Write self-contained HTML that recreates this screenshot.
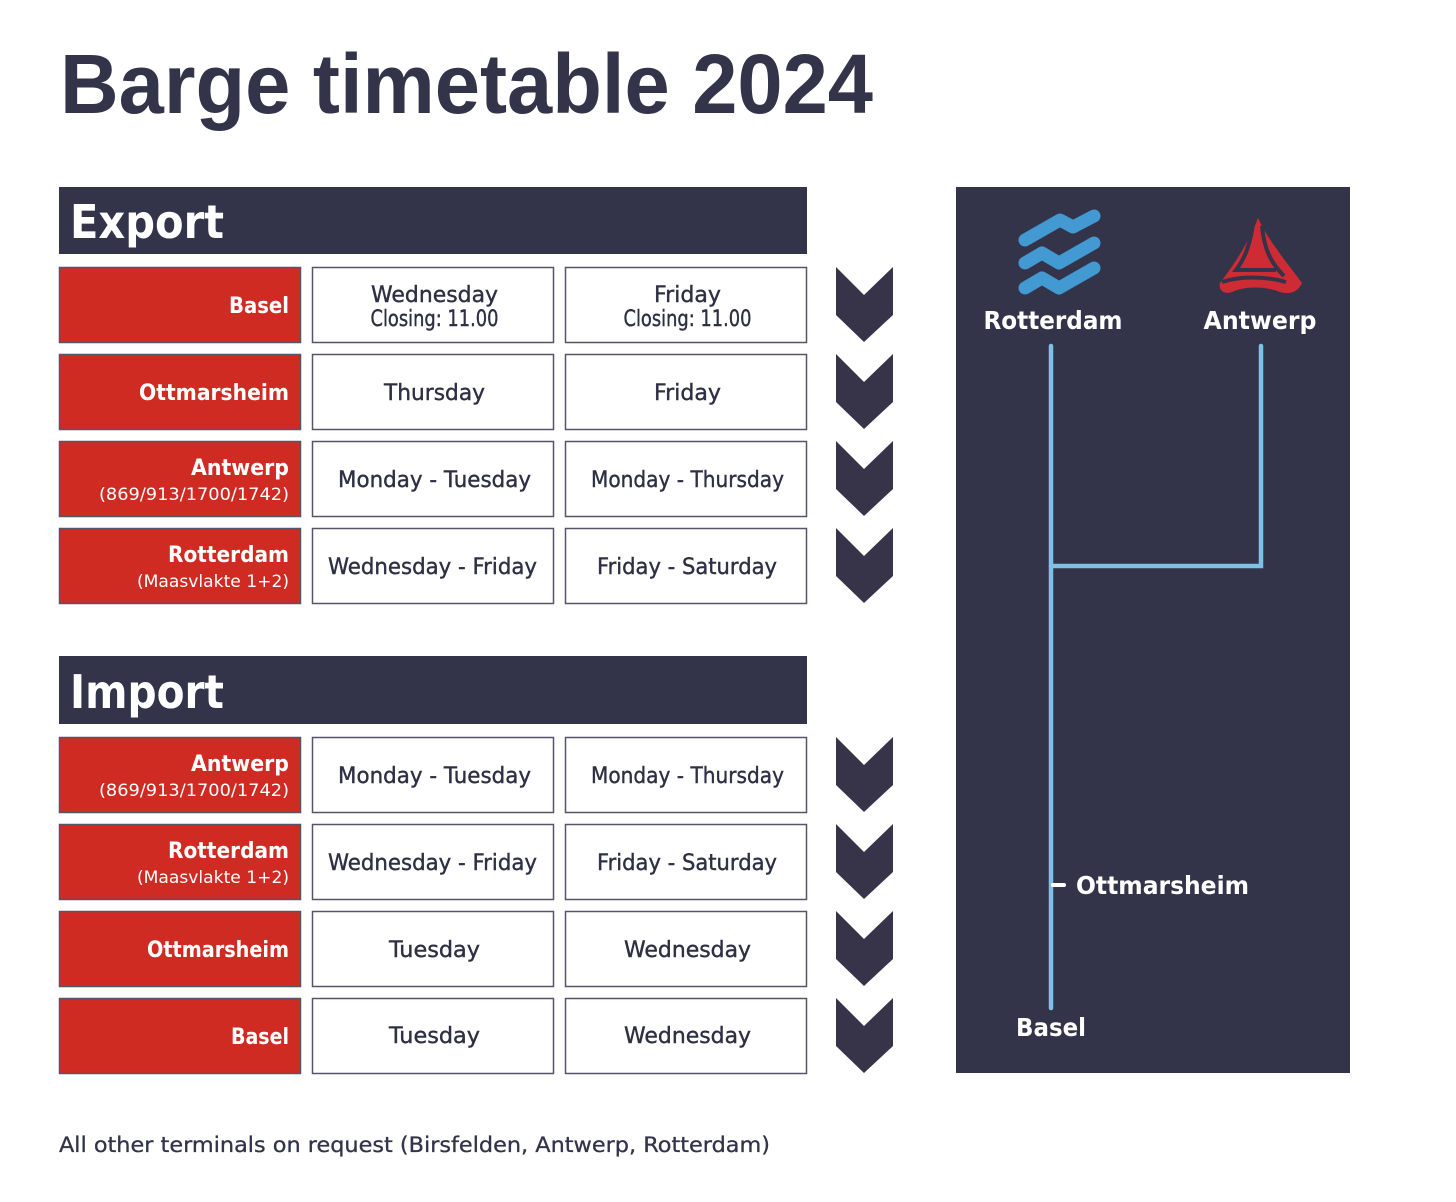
<!DOCTYPE html>
<html><head><meta charset="utf-8"><style>
html,body{margin:0;padding:0;background:#fff}
svg{display:block}
text{font-family:"DejaVu Sans","Liberation Sans",sans-serif}
.t{fill:#33334a}
.w{fill:#fff;font-weight:bold}
.c{fill:#2f2f44;font-size:22px;text-anchor:middle;stroke:#2f2f44;stroke-width:0.4}
.r{fill:#fff;font-weight:bold;font-size:22px;text-anchor:end}
.rs{fill:#fff;font-size:17px;text-anchor:end}
</style></head><body>
<svg width="1456" height="1202" viewBox="0 0 1456 1202" xmlns="http://www.w3.org/2000/svg">
<text x="60" y="113" class="t" font-size="84" font-weight="bold" style="font-family:'Liberation Sans',sans-serif" textLength="813" lengthAdjust="spacingAndGlyphs">Barge timetable 2024</text>

<rect x="59" y="187" width="748" height="67" fill="#33334a"/>
<text x="70" y="238" class="w" font-size="46" textLength="154" lengthAdjust="spacingAndGlyphs">Export</text>
<rect x="59" y="656" width="748" height="68" fill="#33334a"/>
<text x="70" y="708" class="w" font-size="46" textLength="154" lengthAdjust="spacingAndGlyphs">Import</text>

<g stroke="#55556a" stroke-width="1.5">
<g fill="#cf2b22">
<rect x="59.5" y="267.5" width="241" height="75"/>
<rect x="59.5" y="354.5" width="241" height="75"/>
<rect x="59.5" y="441.5" width="241" height="75"/>
<rect x="59.5" y="528.5" width="241" height="75"/>
<rect x="59.5" y="737.5" width="241" height="75"/>
<rect x="59.5" y="824.5" width="241" height="75"/>
<rect x="59.5" y="911.5" width="241" height="75"/>
<rect x="59.5" y="998.5" width="241" height="75"/>
</g>
<g fill="#fff">
<rect x="312.5" y="267.5" width="241" height="75"/><rect x="565.5" y="267.5" width="241" height="75"/>
<rect x="312.5" y="354.5" width="241" height="75"/><rect x="565.5" y="354.5" width="241" height="75"/>
<rect x="312.5" y="441.5" width="241" height="75"/><rect x="565.5" y="441.5" width="241" height="75"/>
<rect x="312.5" y="528.5" width="241" height="75"/><rect x="565.5" y="528.5" width="241" height="75"/>
<rect x="312.5" y="737.5" width="241" height="75"/><rect x="565.5" y="737.5" width="241" height="75"/>
<rect x="312.5" y="824.5" width="241" height="75"/><rect x="565.5" y="824.5" width="241" height="75"/>
<rect x="312.5" y="911.5" width="241" height="75"/><rect x="565.5" y="911.5" width="241" height="75"/>
<rect x="312.5" y="998.5" width="241" height="75"/><rect x="565.5" y="998.5" width="241" height="75"/>
</g>
</g>

<g fill="#37344a">
<path d="M836 267 L864 295 L893 267 L893 315 L864 342 L836 315Z"/>
<path d="M836 354 L864 382 L893 354 L893 402 L864 429 L836 402Z"/>
<path d="M836 441 L864 469 L893 441 L893 489 L864 516 L836 489Z"/>
<path d="M836 528 L864 556 L893 528 L893 576 L864 603 L836 576Z"/>
<path d="M836 737 L864 765 L893 737 L893 785 L864 812 L836 785Z"/>
<path d="M836 824 L864 852 L893 824 L893 872 L864 899 L836 872Z"/>
<path d="M836 911 L864 939 L893 911 L893 959 L864 986 L836 959Z"/>
<path d="M836 998 L864 1026 L893 998 L893 1046 L864 1073 L836 1046Z"/>
</g>

<text x="289" y="313" class="r" textLength="60" lengthAdjust="spacingAndGlyphs">Basel</text>
<text x="289" y="400" class="r" textLength="150" lengthAdjust="spacingAndGlyphs">Ottmarsheim</text>
<text x="289" y="475" class="r" textLength="98" lengthAdjust="spacingAndGlyphs">Antwerp</text>
<text x="289" y="500" class="rs" textLength="190" lengthAdjust="spacingAndGlyphs">(869/913/1700/1742)</text>
<text x="289" y="562" class="r" textLength="121" lengthAdjust="spacingAndGlyphs">Rotterdam</text>
<text x="289" y="587" class="rs" textLength="152" lengthAdjust="spacingAndGlyphs">(Maasvlakte 1+2)</text>
<text x="289" y="771" class="r" textLength="98" lengthAdjust="spacingAndGlyphs">Antwerp</text>
<text x="289" y="796" class="rs" textLength="190" lengthAdjust="spacingAndGlyphs">(869/913/1700/1742)</text>
<text x="289" y="858" class="r" textLength="121" lengthAdjust="spacingAndGlyphs">Rotterdam</text>
<text x="289" y="883" class="rs" textLength="152" lengthAdjust="spacingAndGlyphs">(Maasvlakte 1+2)</text>
<text x="289" y="957" class="r" textLength="142" lengthAdjust="spacingAndGlyphs">Ottmarsheim</text>
<text x="289" y="1044" class="r" textLength="58" lengthAdjust="spacingAndGlyphs">Basel</text>

<text x="434.5" y="302" class="c" textLength="127" lengthAdjust="spacingAndGlyphs">Wednesday</text>
<text x="434.5" y="326" class="c" font-size="18" textLength="128" lengthAdjust="spacingAndGlyphs">Closing: 11.00</text>
<text x="687.5" y="302" class="c" textLength="67" lengthAdjust="spacingAndGlyphs">Friday</text>
<text x="687.5" y="326" class="c" font-size="18" textLength="128" lengthAdjust="spacingAndGlyphs">Closing: 11.00</text>
<text x="434.5" y="400" class="c" textLength="101" lengthAdjust="spacingAndGlyphs">Thursday</text>
<text x="687.5" y="400" class="c" textLength="67" lengthAdjust="spacingAndGlyphs">Friday</text>
<text x="434.5" y="487" class="c" textLength="193" lengthAdjust="spacingAndGlyphs">Monday - Tuesday</text>
<text x="687.5" y="487" class="c" textLength="193" lengthAdjust="spacingAndGlyphs">Monday - Thursday</text>
<text x="432.5" y="574" class="c" textLength="209" lengthAdjust="spacingAndGlyphs">Wednesday - Friday</text>
<text x="687" y="574" class="c" textLength="180" lengthAdjust="spacingAndGlyphs">Friday - Saturday</text>
<text x="434.5" y="783" class="c" textLength="193" lengthAdjust="spacingAndGlyphs">Monday - Tuesday</text>
<text x="687.5" y="783" class="c" textLength="193" lengthAdjust="spacingAndGlyphs">Monday - Thursday</text>
<text x="432.5" y="870" class="c" textLength="209" lengthAdjust="spacingAndGlyphs">Wednesday - Friday</text>
<text x="687" y="870" class="c" textLength="180" lengthAdjust="spacingAndGlyphs">Friday - Saturday</text>
<text x="434.5" y="957" class="c" textLength="91" lengthAdjust="spacingAndGlyphs">Tuesday</text>
<text x="687.5" y="957" class="c" textLength="127" lengthAdjust="spacingAndGlyphs">Wednesday</text>
<text x="434.5" y="1043" class="c" textLength="91" lengthAdjust="spacingAndGlyphs">Tuesday</text>
<text x="687.5" y="1043" class="c" textLength="127" lengthAdjust="spacingAndGlyphs">Wednesday</text>

<text x="59" y="1152" fill="#33334a" stroke="#33334a" stroke-width="0.3" font-size="21" textLength="711" lengthAdjust="spacingAndGlyphs">All other terminals on request (Birsfelden, Antwerp, Rotterdam)</text>

<rect x="956" y="187" width="394" height="886" fill="#33334a"/>
<g fill="none" stroke="#4399d2" stroke-width="13" stroke-linecap="round" stroke-linejoin="round">
<polyline points="1025,240 1060,220 1073,227 1094,216"/>
<polyline points="1025,263 1042,253 1059,263 1094,243"/>
<polyline points="1025,288 1042,278 1059,288 1094,268"/>
</g>
<path d="M1258 218 C1268 240 1285 260 1302 283 C1298 292 1290 295 1280 292 C1265 286 1245 286 1232 292 C1224 295 1218 290 1220 283 C1236 262 1250 240 1258 218Z" fill="#cf2b34"/>
<g stroke="#33334a" stroke-width="4" fill="none">
<path d="M1253 224 C1250 245 1245 258 1236 270 L1276 270"/>
<path d="M1262 226 C1264 248 1270 262 1284 276"/>
<path d="M1222 282 C1240 276 1265 276 1286 282"/>
</g>
<text x="1053" y="329" class="w" font-size="25" text-anchor="middle" textLength="139" lengthAdjust="spacingAndGlyphs">Rotterdam</text>
<text x="1260" y="329" class="w" font-size="25" text-anchor="middle" textLength="113" lengthAdjust="spacingAndGlyphs">Antwerp</text>
<g stroke="#7fc0e6" stroke-width="4.5" stroke-linecap="round" fill="none">
<path d="M1051 346 L1051 1008"/>
<path d="M1261 346 L1261 566 L1051 566"/>
</g>
<path d="M1053 885 L1064 885" stroke="#fff" stroke-width="4" stroke-linecap="round"/>
<text x="1076" y="894" class="w" font-size="25" textLength="173" lengthAdjust="spacingAndGlyphs">Ottmarsheim</text>
<text x="1016" y="1036" class="w" font-size="25" textLength="70" lengthAdjust="spacingAndGlyphs">Basel</text>
</svg>
</body></html>
